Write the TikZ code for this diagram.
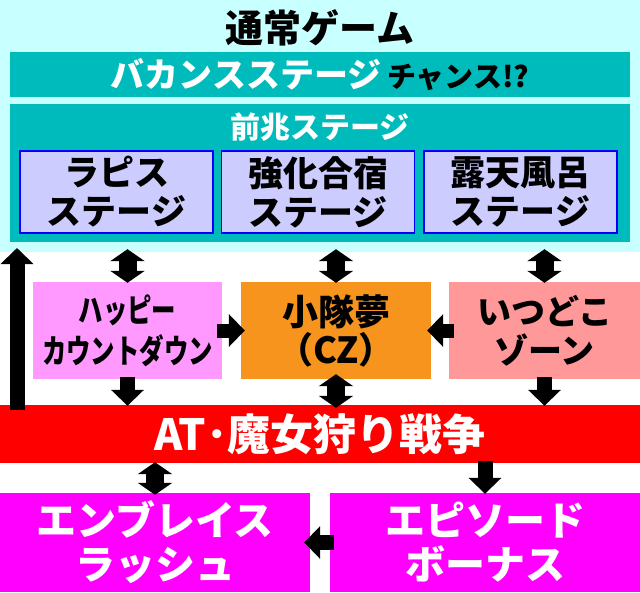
\documentclass[tikz,border=0pt]{standalone}
\usepackage{fontspec}
\setmainfont{Noto Sans CJK JP}[BoldFont={Noto Sans CJK JP Black}]
\newfontfamily\narrowjp{Noto Sans CJK JP Black}[FakeStretch=0.74]
\usetikzlibrary{arrows.meta,positioning}

\definecolor{normalbg}{HTML}{C8FFFF}
\definecolor{stagebg}{HTML}{00BBBB}
\definecolor{stagebox}{HTML}{CCCCFF}
\definecolor{happybg}{HTML}{FF99FF}
\definecolor{czbg}{HTML}{F7941E}
\definecolor{zonebg}{HTML}{FF9999}
\definecolor{bonusbg}{HTML}{FF00FF}

\begin{document}
\begin{tikzpicture}
[
x=1pt, y=-1pt
, every node/.style={inner sep=0pt, align=center}
, panel/.style={fill=#1, minimum width=193pt, minimum height=82pt, font=\bfseries\fontsize{35}{39}\selectfont}
, midbox/.style={fill=#1, minimum width=190pt, minimum height=97pt}
, lowbox/.style={fill=bonusbg, minimum width=310pt, minimum height=99pt, text=white, font=\bfseries\fontsize{40}{44}\selectfont}
, blk/.style={line width=15pt, -{Triangle[width=32pt,length=16pt]}}
, dblk/.style={line width=18pt, {Triangle[width=34pt,length=12pt]}-{Triangle[width=34pt,length=12pt]}}
]
\useasboundingbox (0,0) rectangle (640,592);

% normal game
\node[fill=normalbg, minimum width=640pt, minimum height=252pt] (normal) at (320,126) {};
\node[font=\bfseries\fontsize{38}{40}\selectfont] (title) at (320,28) {通常ゲーム};
\node[fill=stagebg, minimum width=620pt, minimum height=45pt, font=\bfseries\fontsize{34}{38}\selectfont] (vacance) at (320,74.5)
  {\textcolor{white}{バカンスステージ}\,{\fontsize{29}{30}\selectfont チャンス!?}};
\node[fill=stagebg, minimum width=620pt, minimum height=138pt] (omen) at (320,173) {};
\node[text=white, font=\bfseries\fontsize{30}{32}\selectfont] (omentitle) at (320,127) {前兆ステージ};

% stages
\node[panel=stagebox, draw=blue, line width=1.5pt] (lapis) at (116.5,192) {ラピス\\ステージ};
\node[panel=stagebox, draw=blue, line width=1.5pt] (camp) at (318,192) {強化合宿\\ステージ};
\node[panel=stagebox, draw=blue, line width=1.5pt] (bath) at (520.5,192) {露天風呂\\ステージ};

% middle row
\node[midbox=happybg, minimum width=189pt, font=\narrowjp\fontsize{33}{41}\selectfont] (happy) at (127.5,330.5) {ハッピー\\カウントダウン};
\node[midbox=czbg, font=\bfseries\fontsize{36}{38}\selectfont] (cz) at (336,330.5) {小隊夢\\（CZ）};
\node[midbox=zonebg, minimum width=191pt, font=\bfseries\fontsize{34}{39}\selectfont] (zone) at (544.5,330.5) {いつどこ\\ゾーン};

% AT
\node[fill=red, minimum width=640pt, minimum height=58pt, text=white, font=\bfseries\fontsize{43}{45}\selectfont] (at) at (320,434) {AT･魔女狩り戦争};

% bonus
\node[lowbox] (rush) at (155,542.5) {エンブレイス\\ラッシュ};
\node[lowbox] (episode) at (485,542.5) {エピソード\\ボーナス};

% arrows
\coordinate (uptip) at (17,248);
\coordinate (upfoot) at (17,410);
\draw[blk] (upfoot) -- (uptip);
\draw[dblk] ([yshift=-1pt]happy.north) -- ([yshift=3pt]happy.north |- normal.south);
\draw[dblk] ([yshift=-1pt]cz.north) -- ([yshift=3pt]cz.north |- normal.south);
\draw[dblk] ([yshift=-1pt]zone.north) -- ([yshift=3pt]zone.north |- normal.south);
\draw[blk, line width=14pt] ([xshift=-5pt]happy.east) -- ([xshift=4pt]cz.west);
\draw[blk, line width=14pt] ([xshift=5pt]zone.west) -- ([xshift=-4pt]cz.east);
\draw[blk] ([yshift=2pt]happy.south) -- ([yshift=-1pt]happy.south |- at.north);
\draw[dblk] ([yshift=5pt]cz.south) -- ([yshift=-3pt]cz.south |- at.north);
\draw[blk] ([yshift=2pt]zone.south) -- ([yshift=-1pt]zone.south |- at.north);
\draw[dblk] ([yshift=1pt]at.south -| rush) -- ([yshift=-2pt]rush.north);
\draw[blk] ([yshift=2pt]at.south -| episode) -- ([yshift=-1pt]episode.north);
\draw[blk] ([xshift=4pt]episode.west) -- ([xshift=-6pt]rush.east);

\end{tikzpicture}
\end{document}
